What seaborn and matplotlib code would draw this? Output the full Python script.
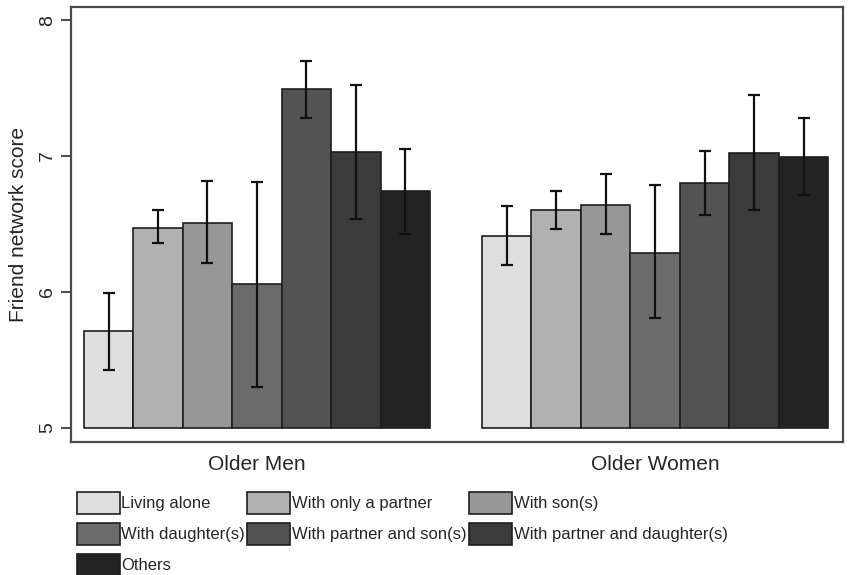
import matplotlib.pyplot as plt
import matplotlib.patches as mpatches
import pandas as pd
import seaborn as sns

# Data
groups = ['Older Men', 'Older Women']
arrangements = ['Living alone', 'With only a partner', 'With son(s)', 'With daughter(s)',
                'With partner and son(s)', 'With partner and daughter(s)', 'Others']
men_score = [5.71, 6.47, 6.51, 6.06, 7.49, 7.03, 6.74]
men_low = [5.43, 6.36, 6.21, 5.30, 7.28, 6.54, 6.43]
men_high = [5.99, 6.60, 6.82, 6.81, 7.70, 7.52, 7.05]
women_score = [6.41, 6.60, 6.64, 6.29, 6.80, 7.02, 6.99]
women_low = [6.20, 6.46, 6.43, 5.81, 6.57, 6.60, 6.71]
women_high = [6.63, 6.74, 6.87, 6.79, 7.04, 7.45, 7.28]
grays = ['#dedede', '#b1b1b1', '#979797', '#6b6b6b', '#535353', '#3b3b3b', '#232323']

df = pd.DataFrame({
    'group': [groups[0]] * 7 + [groups[1]] * 7,
    'arrangement': arrangements * 2,
    'score': men_score + women_score,
    'low': men_low + women_low,
    'high': men_high + women_high,
})

sns.set_style('white')
plt.rcParams['font.family'] = ['Liberation Sans', 'DejaVu Sans']

fig = plt.figure(figsize=(8.6, 5.75), dpi=100)
ax = fig.add_axes([0.0826, 0.2313, 0.8977, 0.7565])

sns.barplot(data=df, x='group', y='score', hue='arrangement', order=groups,
            hue_order=arrangements, palette=grays, width=0.87, errorbar=None,
            edgecolor='#1e1e1e', linewidth=1.2, legend=False, ax=ax)

# bars start at 5 instead of 0, then add the error bars on top
base = 5
bar_sets = list(ax.containers)
for i, cont in enumerate(bar_sets):
    for p in cont.patches:
        cx = p.get_x() + p.get_width() / 2
        g = int(round(cx))
        row = df[(df['group'] == groups[g]) & (df['arrangement'] == arrangements[i])].iloc[0]
        p.set_y(base)
        p.set_height(row['score'] - base)
        ax.errorbar(cx, row['score'],
                    yerr=[[row['score'] - row['low']], [row['high'] - row['score']]],
                    fmt='none', ecolor='#111111', elinewidth=1.6, capsize=4, capthick=1.6,
                    zorder=5)

ax.set_ylim(4.897, 8.096)
ax.set_xlim(-0.467, 1.472)
ax.set_yticks([5, 6, 7, 8])
ax.set_xlabel('')
ax.set_ylabel('Friend network score', fontsize=15, labelpad=8)

for s in ax.spines.values():
    s.set_visible(True)
    s.set_color('#4a4a4a')
    s.set_linewidth(1.6)

ax.tick_params(axis='x', length=0, pad=9, labelsize=15)
ax.tick_params(axis='y', length=7, width=1.4, color='#4a4a4a', direction='out',
               left=True, labelsize=14, pad=4)
for t in ax.get_yticklabels():
    t.set_rotation(90)
    t.set_va('center')

# legend in row order: Living alone, With only a partner, With son(s) on the first row
handles = [mpatches.Patch(facecolor=c, edgecolor='#1e1e1e', linewidth=1.2) for c in grays]
order = [0, 3, 6, 1, 4, 2, 5]
fig.legend([handles[k] for k in order], [arrangements[k] for k in order],
           loc='upper left', bbox_to_anchor=(0.089, 0.145), ncol=3, frameon=False,
           handlelength=2.58, handleheight=1.65, handletextpad=0.1, columnspacing=0.15,
           labelspacing=0.54, borderpad=0, borderaxespad=0, fontsize=12)

fig.savefig('out.png', dpi=100)
